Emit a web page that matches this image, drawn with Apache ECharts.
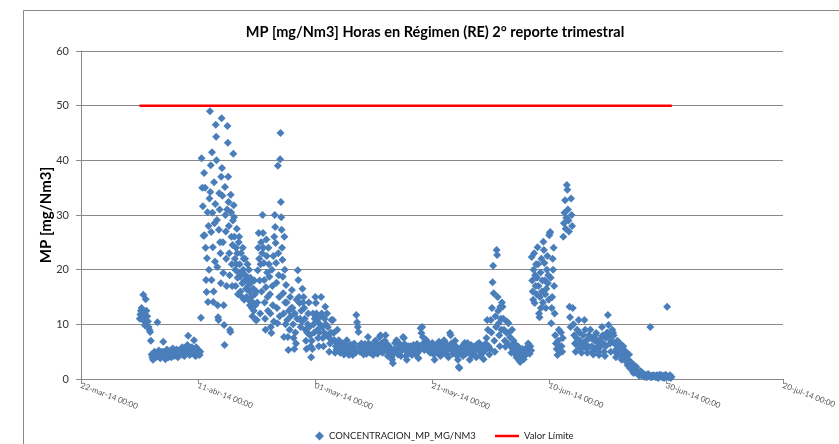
<!DOCTYPE html>
<html>
<head>
<meta charset="utf-8">
<script src="https://cdn.jsdelivr.net/npm/echarts@6/dist/echarts.min.js"></script>
<style>
html, body { margin: 0; padding: 0; background: #fff; }
#chart { width: 839px; height: 444px; }
</style>
</head>
<body>
<div id="chart"></div>
<script>
// eje x en dias desde 22-mar-14 00:00
const etiquetasX = ['22-mar-14 00:00', '11-abr-14 00:00', '01-may-14 00:00', '21-may-14 00:00',
  '10-jun-14 00:00', '30-jun-14 00:00', '20-jul-14 00:00']
const primerDia = 10 // 01-abr-14

// lecturas de cada dia (repartidas a lo largo del dia), desde 01-abr-14 a 30-jun-14
const concentracion = [
  [11, 11.8, 12.5, 13, 12, 11, 15.4, 10.6, 12.2, 9.8],
  [14.6, 12.5, 11.5, 10.5, 9.5, 9, 8.6, 7.0],
  [4.5, 4, 3.5, 4.2, 5, 4.6, 4, 4.8],
  [10.4, 4.5, 5.2, 4, 3.8, 4.6, 5, 4.2],
  [6.8, 5, 4.4, 3.6, 4.8, 5.4, 4.2, 4],
  [4.6, 5, 5.2, 4, 4.4, 5.6, 4.8, 4.2],
  [5, 4.4, 5.4, 4.8, 4, 5.2, 4.6, 5],
  [5.2, 4.6, 5.8, 4.4, 5, 4.2, 5.4, 4.8],
  [5.6, 6.2, 7.9, 5, 4.4, 5.4, 4.6, 5.8],
  [5, 4.6, 7.1, 5.4, 4.2, 5.8, 4.4, 5],
  [4.6, 5.2, 4.4, 5, 11.2, 40.4, 35, 31.6, 26.2],
  [37.7, 26.3, 35, 24, 18.1, 15.9, 22.1, 30.5, 14.1, 28, 20, 33],
  [49, 34.2, 39.1, 26.9, 18.1, 41.5, 30.4, 24.1, 14.1, 16, 36, 28.5, 21.5, 32],
  [46.5, 44.3, 40, 29.1, 20.5, 13.5, 11.3, 10.8, 27.3, 34, 31, 25, 23, 17.5, 37],
  [47.7, 38.6, 33.5, 25, 19.4, 13.5, 9.9, 6.2, 35.1, 30, 27, 22, 17, 31],
  [46.3, 43.2, 37, 32.4, 28, 23, 19, 9, 8.6, 33.7, 30.5, 26, 21, 17, 24.5, 29],
  [41.2, 31.8, 29.6, 26, 22, 20, 17, 24, 21, 27.5, 23, 18.5, 15.5, 19.5, 25],
  [26, 21, 18.7, 16, 23, 19.5, 15, 17.5, 24, 20, 22, 14.5, 18],
  [22, 19, 16.5, 15, 18, 21, 17, 14.5, 20, 16, 13.5, 18.5],
  [17.6, 15, 13, 11.5, 14, 16.5, 12.5, 18, 15.5, 13.5, 10.8, 16],
  [10.8, 14, 19.9, 24, 26.7, 22, 18, 12, 21, 25, 16, 23],
  [30, 26.7, 24, 21.2, 18.1, 14, 11, 9, 16.8, 25.5, 22.5, 19.5, 15, 12.5],
  [24, 21, 18.7, 15.5, 12, 9.5, 8.4, 20, 17, 13.5, 22.5, 10.5],
  [26, 30, 27.8, 24.9, 21.2, 17.6, 13, 10.2, 39, 23, 19, 15, 11.5],
  [40.2, 45, 32.4, 29.6, 27.3, 24, 21.8, 18.7, 15.7, 12, 7.7, 26, 20, 14, 10],
  [17.2, 14, 10.8, 7.7, 5.3, 12.5, 9, 15, 11.5, 13],
  [16.3, 13, 10, 7.5, 5.5, 12, 8.5, 6.5, 14.5, 11],
  [19.9, 18.1, 15, 13.9, 11, 9.5, 12.5, 10.5, 16.5, 14],
  [15, 13, 11, 9, 7, 5.5, 8.5, 10, 12, 14],
  [9.5, 8, 6, 4, 7, 5.5, 12, 10, 8.5, 11],
  [15, 13.9, 12, 10.8, 9, 7.5, 6, 8.5, 10, 11.5],
  [15, 12, 9.5, 7.5, 6, 8.5, 11, 13.2, 10, 8],
  [12, 9.5, 7.7, 5, 6.5, 8.5, 10.8, 7],
  [10.8, 8.4, 7.1, 4.8, 6, 5.4, 9, 6.5],
  [7.1, 5.5, 4.8, 6, 5, 6.5, 5.8, 4.5],
  [5.5, 6, 4.8, 7.1, 5.2, 5.8, 4.4, 6.2],
  [5, 6.2, 5.5, 4.4, 5.8, 6.5, 5.2, 4.8],
  [11.7, 10.4, 9.5, 8.6, 6, 5, 5.5, 6.5],
  [6, 5.2, 4.5, 5.8, 6.4, 5, 4.6, 5.6],
  [7.7, 6.5, 5.5, 4.8, 5.4, 6.2, 5, 4.4],
  [6, 5.2, 7, 6.4, 5, 4.6, 5.6, 6.2],
  [7.7, 8, 6.5, 5.5, 4.8, 6, 5.2, 7],
  [8, 6.5, 5.5, 4.2, 5, 6, 4.6, 5.4],
  [4, 3.5, 2.9, 4.6, 5.4, 6.6, 5, 7.1],
  [5.2, 4.5, 5.8, 6.5, 5, 4.2, 6, 5.5],
  [7.7, 7.5, 6.4, 5.2, 4.2, 3.5, 5, 6],
  [5.5, 4.8, 6, 5.2, 4.4, 5.8, 6.2, 5],
  [5, 4.5, 5.6, 6.4, 4.8, 3.8, 5.2, 6],
  [9.3, 8.4, 9.5, 7.7, 6.6, 5.3, 6, 7.2],
  [7, 6, 5.2, 6.5, 5.5, 4.8, 6.2, 5.8],
  [6.6, 5.5, 4.5, 3.5, 5, 6, 5.2, 4.8],
  [5.5, 6.8, 5, 4.2, 5.8, 6.2, 4.6, 5.3],
  [7.1, 6.8, 5.5, 4.5, 5.2, 6, 4, 5.5],
  [8.4, 8, 6.5, 5.5, 4.6, 6, 5, 7],
  [6, 5.2, 4.2, 3.5, 2.2, 2.0, 4.8, 5.5],
  [5.9, 5, 4.2, 6, 6.6, 5.4, 4.6, 5.8],
  [6.6, 5.5, 4.8, 3.5, 5.2, 6.2, 4.4, 5],
  [5, 4.5, 6, 5.5, 4, 5.8, 6.4, 5.2],
  [6.6, 5.5, 4.2, 5, 6, 4.8, 3.6, 5.4],
  [5.2, 6.5, 7.5, 10.8, 9, 6, 4.5, 5.5],
  [10.8, 8.5, 13, 17.7, 20.7, 15.7, 7, 5, 11.5, 9.5],
  [23.6, 22.7, 15, 12.5, 10.2, 8, 6, 13.2, 11, 9, 14],
  [13.2, 11, 9, 7, 5.9, 8.5, 10.5, 6.5],
  [10.2, 8.5, 7.7, 6, 4.8, 9, 5.5, 7],
  [6.5, 5.5, 4.5, 4, 5.2, 6, 3.5, 4.6],
  [3.1, 4, 4.8, 5.5, 4.2, 3.6, 5, 4.4],
  [4.5, 5.5, 5.9, 6.5, 5, 4.6, 6, 5.2],
  [22.3, 18, 16, 14.5, 20, 23, 13.9, 19, 17, 21, 15.5, 18.5],
  [24.1, 21, 17, 12, 11.3, 15, 19.5, 13, 22, 16, 18, 14],
  [25.1, 23.6, 21.2, 18, 15.5, 13, 16.5, 20, 22.5, 17.5, 19, 14.5],
  [26.3, 26.7, 26.9, 18.5, 10.2, 13, 15, 22, 20, 24, 17, 12],
  [8, 6.5, 5.5, 4.4, 7, 9, 6, 5],
  [8.5, 6, 5, 7.5, 26, 28.5, 30.4, 32.7, 27.5, 29.5],
  [35.5, 34.6, 31, 29, 27, 13.2, 11.3, 9.5, 33, 30, 28],
  [13, 10, 8, 6.5, 5, 7.5, 9, 6],
  [10.8, 8.5, 7, 5.5, 4.8, 6.5, 8, 6],
  [10.8, 9, 7, 5.5, 4.8, 6, 8, 7.5],
  [9, 7.5, 6, 5, 4.5, 5.5, 7, 8],
  [8.4, 7, 6, 5, 4.4, 5.8, 6.5, 7.5],
  [9.5, 8, 6.5, 5, 4.2, 6, 7.5, 8.5],
  [11.7, 9.9, 8, 6.5, 5, 7, 9, 8.5],
  [8, 6.5, 5, 4, 5.5, 7, 6, 4.5],
  [6.6, 5.5, 4.5, 3.5, 5, 6, 4, 5.2],
  [5, 4, 3, 2.5, 3.5, 4.5, 2, 3],
  [3, 2, 1.5, 1.1, 2.5, 1.8, 1.2, 2.2],
  [1.6, 1.2, 0.8, 0.6, 1, 1.4, 0.7, 1.1],
  [1, 0.6, 0.4, 0.8, 0.5, 0.3, 0.7, 0.9],
  [0.8, 0.5, 9.5, 0.3, 0.6, 0.4, 0.7, 0.5],
  [0.6, 0.4, 0.3, 0.7, 0.5, 0.2, 0.6, 0.8],
  [0.5, 0.7, 0.3, 0.4, 0.6, 0.2, 0.5, 0.8],
  [0.6, 13.2, 0.4, 0.3, 0.5, 0.7, 0.2, 0.4]
]

const valorLimite = 50
const limiteDesde = 10  // 01-abr-14
const limiteHasta = 101 // 01-jul-14

const fuente = 'Lato, "Liberation Sans", sans-serif'
const gris = '#888'

function puntos() {
  const out = []
  concentracion.forEach((dia, k) => {
    dia.forEach((v, i) => {
      out.push([primerDia + k + (i + 0.5) / dia.length, v])
    })
  })
  return out
}

function getOption() {
  return {
    animation: false,
    backgroundColor: '#fff',
    title: {
      text: 'MP [mg/Nm3] Horas en Régimen (RE) 2° reporte trimestral',
      left: 430,
      top: 20,
      textAlign: 'center',
      textStyle: { fontFamily: fuente, fontSize: 14.5, fontWeight: 'bold', color: '#000' }
    },
    graphic: [{
      type: 'rect',
      shape: { x: 23.5, y: 10.5, width: 900, height: 500 },
      style: { fill: 'none', stroke: gris, lineWidth: 1 },
      silent: true
    }],
    legend: [{
      data: ['CONCENTRACION_MP_MG/NM3'],
      left: 310,
      top: 426,
      itemWidth: 9,
      itemHeight: 9,
      textStyle: { fontFamily: fuente, fontSize: 9.5, color: '#222' }
    }, {
      data: [{ name: 'Valor Límite', icon: 'rect' }],
      left: 490,
      top: 426,
      itemWidth: 24,
      itemHeight: 2.5,
      textStyle: { fontFamily: fuente, fontSize: 9.5, color: '#222' }
    }],
    grid: { left: 81, right: 56, top: 51, bottom: 65 },
    xAxis: {
      type: 'value',
      min: 0,
      max: 120,
      interval: 20,
      axisLine: { lineStyle: { color: gris } },
      axisTick: { show: true, length: 5, lineStyle: { color: gris } },
      splitLine: { show: false },
      axisLabel: {
        rotate: -21,
        margin: 6,
        fontFamily: fuente,
        fontSize: 8,
        color: '#595959',
        formatter: v => etiquetasX[Math.round(v / 20)] || ''
      }
    },
    yAxis: {
      type: 'value',
      min: 0,
      max: 60,
      interval: 10,
      name: 'MP [mg/Nm3]',
      nameLocation: 'middle',
      nameGap: 27,
      nameMoveOverlap: false,
      nameTextStyle: { fontFamily: fuente, fontSize: 15, fontWeight: 'bold', color: '#000' },
      axisLine: { show: true, lineStyle: { color: gris } },
      axisTick: { show: true, length: 5, lineStyle: { color: gris } },
      splitLine: { lineStyle: { color: gris, width: 1 } },
      axisLabel: { margin: 12, fontFamily: fuente, fontSize: 11, color: '#333' }
    },
    series: [{
      name: 'CONCENTRACION_MP_MG/NM3',
      type: 'scatter',
      symbol: 'diamond',
      symbolSize: 8,
      itemStyle: { color: '#4A7EBB', opacity: 1 },
      data: puntos()
    }, {
      name: 'Valor Límite',
      type: 'line',
      symbol: 'none',
      lineStyle: { color: '#FF0000', width: 2.5 },
      itemStyle: { color: '#FF0000' },
      data: [[limiteDesde, valorLimite], [limiteHasta, valorLimite]]
    }]
  }
}

const chart = echarts.init(document.getElementById('chart'))
chart.setOption(getOption())
</script>
</body>
</html>
